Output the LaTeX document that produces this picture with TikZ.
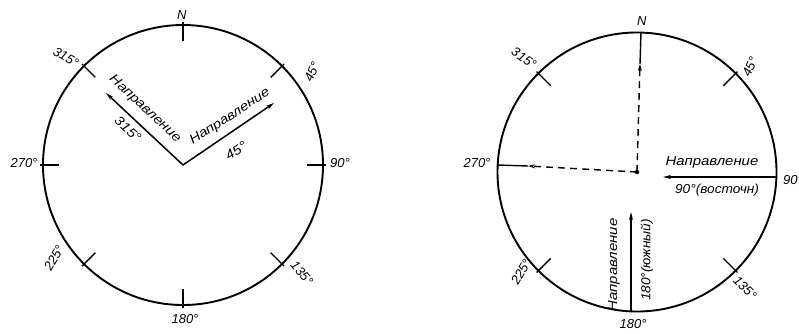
\documentclass[tikz,border=0pt]{standalone}
\usepackage{fontspec}
\setmainfont{Liberation Sans}
\usetikzlibrary{arrows.meta,calc}
\begin{document}
\begin{tikzpicture}[x=1pt,y=-1pt,
  rim/.style={line width=1.9pt},
  tickmark/.style={line width=1.4pt},
  lbl/.style={font=\fontsize{13}{13}\selectfont\itshape, inner sep=0pt},
  dirtext/.style={font=\fontsize{13}{13}\selectfont\itshape, inner sep=0pt},
  dirarrow/.style={line width=1.5pt, -{Stealth[length=8pt,width=4pt]}},
  dashline/.style={line width=1.4pt, dash pattern=on 7pt off 5pt},
  solidline/.style={line width=1.4pt},
]
\useasboundingbox (0,0) rectangle (799,333);

% ---------------- left compass ----------------
\coordinate (c1) at (183,165);
\draw[rim] (c1) circle[radius=140];
\foreach \a in {0,45,...,315}
  \draw[tickmark] ($(c1)+({143*sin(\a)},{-143*cos(\a)})$) -- ($(c1)+({124*sin(\a)},{-124*cos(\a)})$);
\node[lbl] (l0)   at (181.7,15)  {N};
\node[lbl, rotate=-30] (l315) at (66,57) {315°};
\node[lbl, rotate=65]  (l45)  at (312,72) {45°};
\node[lbl] (l90)  at (340,163) {90°};
\node[lbl] (l270) at (24,163) {270°};
\node[lbl, rotate=60]  (l225) at (54,258) {225°};
\node[lbl, rotate=-50] (l135) at (302,273) {135°};
\node[lbl] (l180) at (185,319) {180°};

\coordinate (a45) at (274,103);
\coordinate (a315) at (106,93);
\draw[dirarrow] (c1) -- (a45);
\draw[dirarrow] (c1) -- (a315);
\node[dirtext, rotate=33]  (t45a)  at (230,117) {\scalebox{1.15}[1]{Направление}};
\node[dirtext, rotate=33]  (t45b)  at (236,151) {\scalebox{1.15}[1]{45°}};
\node[dirtext, rotate=-43] (t315a) at (145,109) {\scalebox{1.15}[1]{Направление}};
\node[dirtext, rotate=-43] (t315b) at (128,129) {\scalebox{1.15}[1]{315°}};

% ---------------- right compass ----------------
\coordinate (c2) at (637,172);
\draw[rim] (c2) circle[radius=139.5];
\foreach \a in {45,135,225,315}
  \draw[tickmark] ($(c2)+({142*sin(\a)},{-142*cos(\a)})$) -- ($(c2)+({122*sin(\a)},{-122*cos(\a)})$);
\node[lbl] (r0)   at (641.7,21)  {N};
\node[lbl, rotate=-35] (r315) at (524,58) {315°};
\node[lbl, rotate=65]  (r45)  at (750,67) {45°};
\node[lbl] (r90)  at (793,180) {90°};
\node[lbl] (r270) at (477,163) {270°};
\node[lbl, rotate=60]  (r225) at (521,272) {225°};
\node[lbl, rotate=-45] (r135) at (745,288) {135°};
\node[lbl] (r180) at (633,324) {180°};

\fill (c2) circle[radius=2.2];
% north: dashed then arrow then solid
\coordinate (ntop) at (641,32.5);
\coordinate (nmid) at (640,64);
\draw[dashline, -{Stealth[length=7pt,width=4pt]}] (c2) -- (nmid);
\draw[solidline] (nmid) -- (ntop);
% west
\coordinate (wleft) at (497.5,165);
\coordinate (wmid) at (528,166);
\draw[dashline, -{Stealth[length=7pt,width=4pt]}] (c2) -- (wmid);
\draw[solidline] (wmid) -- (wleft);
% east
\coordinate (eright) at (775.5,177);
\coordinate (etip) at (663,177);
\draw[dirarrow] (eright) -- (etip);
\node[dirtext] (e1) at (712,162) {\scalebox{1.15}[1]{Направление}};
\node[dirtext] (e2) at (717,190) {\scalebox{1.05}[1]{90°(восточн)}};
% south
\coordinate (sbot) at (631,311);
\coordinate (stip) at (631,212);
\draw[dirarrow] (sbot) -- (stip);
\node[dirtext, rotate=90] (s1) at (614,265) {\scalebox{1.15}[1]{Направление}};
\node[dirtext, rotate=90] (s2) at (647,260) {\scalebox{1.05}[1]{180°(южный)}};
\end{tikzpicture}
\end{document}
